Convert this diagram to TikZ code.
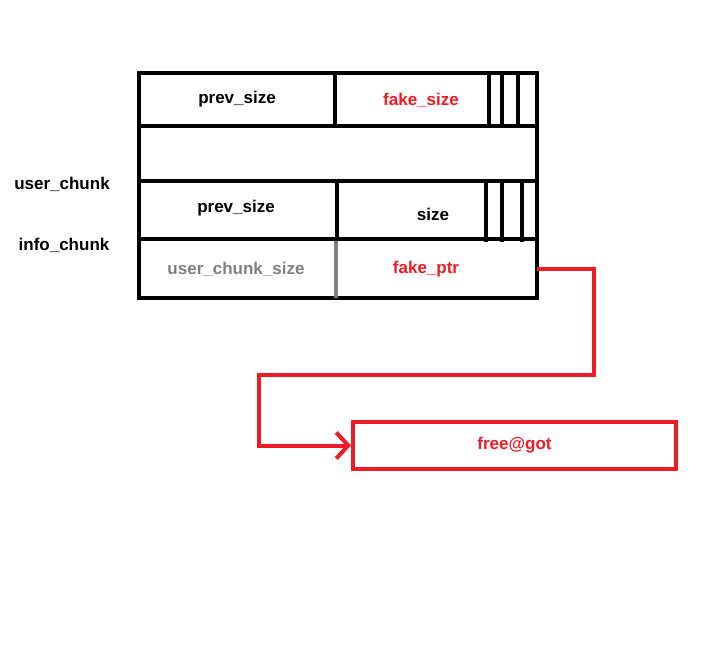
\documentclass[tikz,border=0pt]{standalone}
\usepackage{fontspec}
\setmainfont{Liberation Sans}
\usetikzlibrary{arrows.meta}
\definecolor{paintred}{RGB}{237,28,36}
\definecolor{paintgray}{RGB}{127,127,127}
\tikzset{
  label/.style={font=\bfseries\fontsize{17}{19}\selectfont},
  frame/.style={line width=4pt},
  flag/.style={line width=3.5pt},
  wire/.style={paintred, line width=4pt, -{Straight Barb[length=12pt,width=26pt,line width=4pt]}},
}
\begin{document}
\begin{tikzpicture}[x=1pt,y=-1pt]
  \useasboundingbox (0,0) rectangle (728,650);

  % chunk layout
  \draw[frame] (139,73) rectangle (537,298);
  \draw[frame] (139,126) -- (537,126);
  \draw[frame] (139,181) -- (537,181);
  \draw[frame] (139,239) -- (537,239);
  \draw[frame] (335,73) -- (335,126);
  \draw[frame] (337,181) -- (337,239);
  \draw[frame, paintgray] (336,241) -- (336,298);

  \foreach \x in {489,502,518}
    \draw[flag] (\x,71) -- (\x,128);
  \foreach \x in {486,502,522}
    \draw[flag] (\x,179) -- (\x,242);

  \node[label] (prev1) at (237,99) {prev\_size};
  \node[label, paintred] (fsize) at (421,100) {fake\_size};
  \node[label] (prev2) at (236,208) {prev\_size};
  \node[label] (size) at (433,214) {size};
  \node[label, paintgray] (usize) at (236,269) {user\_chunk\_size};
  \node[label, paintred] (fptr) at (426,269) {fake\_ptr};

  \node[label] (user) at (62,184) {user\_chunk};
  \node[label] (info) at (64,245) {info\_chunk};

  \node[label, paintred, draw=paintred, line width=4pt, minimum width=323pt,
        minimum height=47pt, inner sep=0pt] (got) at (514.5,445.5) {free@got};

  \coordinate (ptrout) at (537,269);
  \draw[wire] (ptrout) -- (594,269) |- (259,375) |- (got.west);
\end{tikzpicture}
\end{document}
